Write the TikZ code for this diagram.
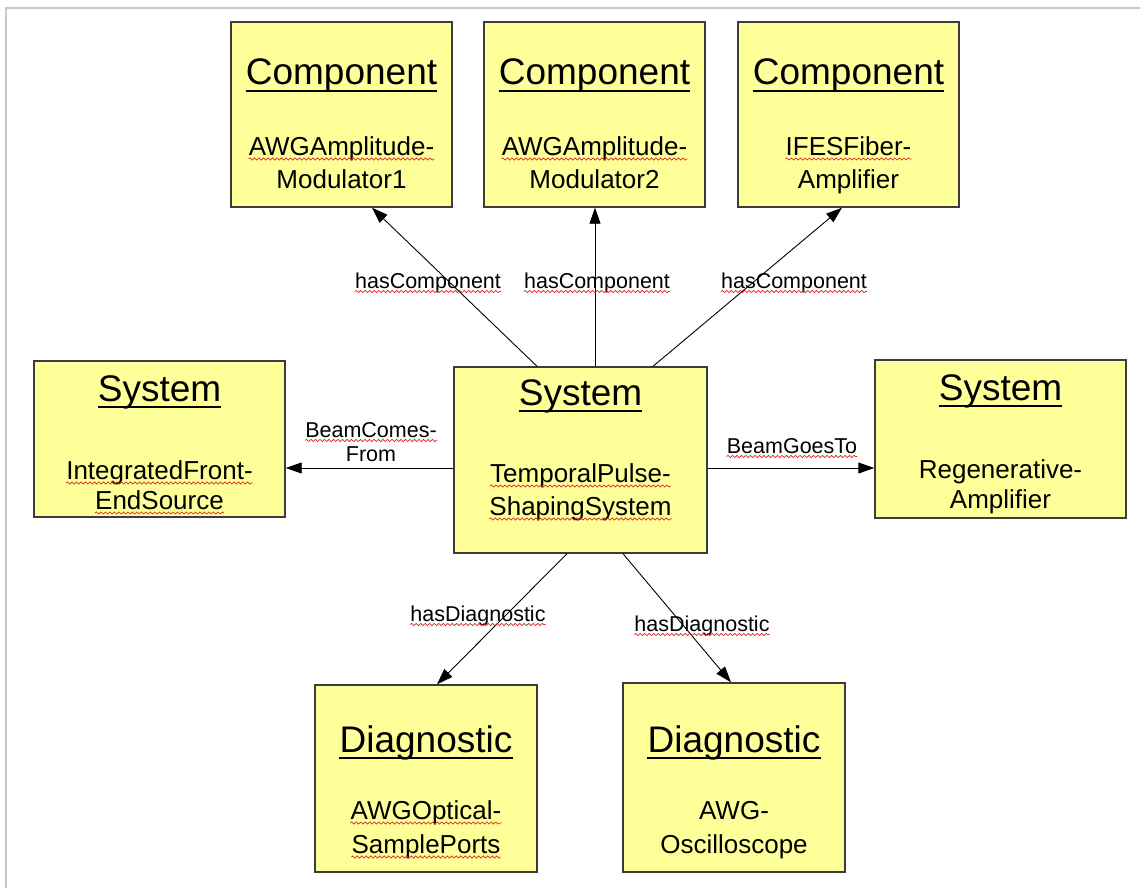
\documentclass[tikz,border=0pt]{standalone}
\usepackage{fontspec}
\setmainfont{Liberation Sans}
\usetikzlibrary{arrows.meta,decorations.pathmorphing}
\definecolor{boxfill}{RGB}{255,255,153}
\definecolor{boxline}{RGB}{60,60,60}
\definecolor{framegray}{RGB}{200,200,200}
\definecolor{spellred}{RGB}{220,40,40}
\begin{document}
\begin{tikzpicture}[x=1pt,y=-1pt,
  box/.style={draw=boxline,fill=boxfill,line width=1.4pt,rectangle,inner sep=0pt},
  ttl/.style={anchor=base,inner sep=0pt,font=\fontsize{37}{40}\selectfont},
  sub/.style={anchor=base,inner sep=0pt,font=\fontsize{26}{30}\selectfont},
  lbl/.style={anchor=base,inner sep=0pt,font=\fontsize{21.5}{24}\selectfont},
  uline/.style={line width=2pt,black},
  wavy/.style={spellred,line width=0.7pt,decorate,decoration={snake,amplitude=1.1pt,segment length=4.5pt}},
  arr/.style={draw=black,line width=0.9pt,-{Triangle[length=16pt,width=11pt]}},
  frame/.style={draw=framegray,line width=1.5pt}]
\useasboundingbox (0,0) rectangle (1140,888);
\draw[frame] (6,888) -- (6,8) -- (1140,8);

% boxes
\node[box,minimum width=221pt,minimum height=185pt] (c1) at (341.5,114.5) {};
\node[box,minimum width=221pt,minimum height=185pt] (c2) at (594.5,114.5) {};
\node[box,minimum width=221pt,minimum height=185pt] (c3) at (848.5,114.5) {};
\node[box,minimum width=251pt,minimum height=156pt] (sl) at (159.5,439) {};
\node[box,minimum width=253pt,minimum height=186pt] (sc) at (580.5,460) {};
\node[box,minimum width=251pt,minimum height=158pt] (sr) at (1000.5,439) {};
\node[box,minimum width=222pt,minimum height=187pt] (d1) at (426,778.5) {};
\node[box,minimum width=222pt,minimum height=189pt] (d2) at (734,777.5) {};

% titles
\node[ttl] (c1t) at (341.5,85) {Component};
\node[ttl] (c2t) at (594.5,85) {Component};
\node[ttl] (c3t) at (848.5,85) {Component};
\node[ttl] (slt) at (159.5,401) {System};
\node[ttl] (sct) at (580.5,405) {System};
\node[ttl] (srt) at (1000.5,400) {System};
\node[ttl] (d1t) at (426,752) {Diagnostic};
\node[ttl] (d2t) at (734,752) {Diagnostic};
\foreach \n in {c1t,c2t,c3t,slt,sct,srt,d1t,d2t}
  \draw[uline] ([yshift=-6pt]\n.base west) -- ([yshift=-6pt]\n.base east);

% subtitles
\node[sub] (c1a) at (341.5,155) {AWGAmplitude-};
\node[sub] (c1b) at (341.5,188) {Modulator1};
\node[sub] (c2a) at (594.5,155) {AWGAmplitude-};
\node[sub] (c2b) at (594.5,188) {Modulator2};
\node[sub] (c3a) at (848.5,155) {IFESFiber-};
\node[sub] (c3b) at (848.5,188) {Amplifier};
\node[sub] (sla) at (159.5,479) {IntegratedFront-};
\node[sub] (slb) at (159.5,509) {EndSource};
\node[sub] (sca) at (580.5,482) {TemporalPulse-};
\node[sub] (scb) at (580.5,515) {ShapingSystem};
\node[sub] (sra) at (1000.5,478) {Regenerative-};
\node[sub] (srb) at (1000.5,508) {Amplifier};
\node[sub] (d1a) at (426,819) {AWGOptical-};
\node[sub] (d1b) at (426,853) {SamplePorts};
\node[sub] (d2a) at (734,819) {AWG-};
\node[sub] (d2b) at (734,853) {Oscilloscope};

% connectors
\draw[arr] ([xshift=-43.5pt]sc.north) -- ([xshift=30.5pt]c1.south);
\draw[arr] ([xshift=14.5pt]sc.north) -- ([xshift=0.5pt]c2.south);
\draw[arr] ([xshift=72.5pt]sc.north) -- ([xshift=-6.5pt]c3.south);
\draw[arr] ([yshift=-8pt]sc.west) -- ([yshift=-29pt]sl.east);
\draw[arr] ([yshift=-8pt]sc.east) -- ([yshift=-29pt]sr.west);
\draw[arr] ([xshift=-13.5pt]sc.south) -- ([xshift=11pt]d1.north);
\draw[arr] ([xshift=42.5pt]sc.south) -- ([xshift=-3pt]d2.north);

% connector labels
\node[lbl] (l1) at (428,288) {hasComponent};
\node[lbl] (l2) at (597,288) {hasComponent};
\node[lbl] (l3) at (794,288) {hasComponent};
\node[lbl] (l4a) at (371,437) {BeamComes-};
\node[lbl] (l4b) at (371,461) {From};
\node[lbl] (l5) at (792,453) {BeamGoesTo};
\node[lbl] (l6) at (478,621) {hasDiagnostic};
\node[lbl] (l7) at (702,631) {hasDiagnostic};

% spell-check squiggles
\foreach \n in {c1a,c2a,c3a,sla,slb,sca,scb,d1a,d1b}
  \draw[wavy] ([yshift=-4pt]\n.base west) -- ([yshift=-4pt]\n.base east);
\foreach \n in {l1,l2,l3,l4a,l5,l6,l7}
  \draw[wavy] ([yshift=-3.5pt]\n.base west) -- ([yshift=-3.5pt]\n.base east);
\end{tikzpicture}
\end{document}
